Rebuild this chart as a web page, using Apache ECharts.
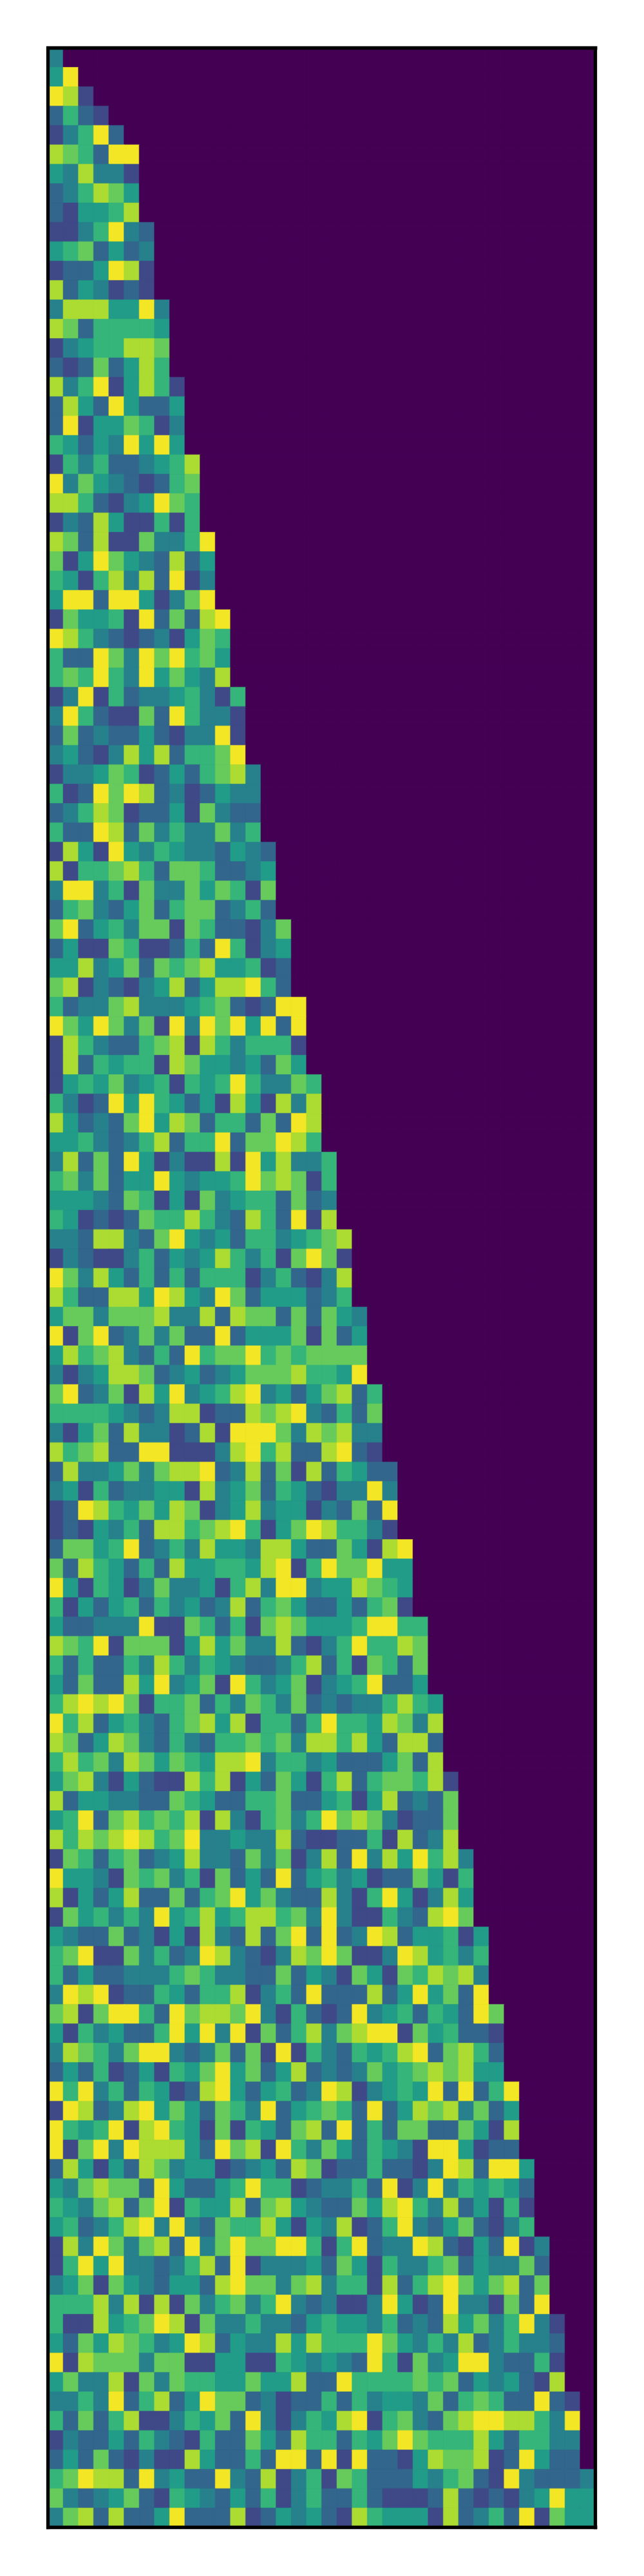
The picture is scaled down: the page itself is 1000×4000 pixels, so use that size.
<!DOCTYPE html>
<html>
<head>
<meta charset="utf-8">
<script src="https://cdn.jsdelivr.net/npm/echarts@6/dist/echarts.min.js"></script>
<style>html,body{margin:0;padding:0;background:#fff}#c{width:1000px;height:4000px}</style>
</head>
<body>
<div id="c"></div>
<script>
const columnCount = 36;
const rowsA = [
[4],
[5,9],
[9,8,2],
[3,6,3,2],
[2,4,6,9,3],
[8,7,6,3,9,9],
[5,4,8,4,4,2],
[3,4,6,8,7,5],
[3,2,5,5,6,8],
[2,2,4,6,9,4,3],
[5,6,7,3,5,3,4],
[2,3,3,5,9,8,2],
[8,3,5,4,2,3,2],
[4,8,8,8,5,5,9,4],
[8,7,3,6,6,6,6,5],
[2,4,5,6,6,8,8,7],
[3,2,3,7,3,5,8,6],
[8,4,6,9,2,5,8,6,2],
[3,8,5,3,9,5,3,3,5],
[3,9,2,5,5,7,6,2,4],
[6,5,3,5,4,9,5,9,5],
[2,6,4,6,3,3,4,5,6,8],
[9,4,7,5,4,3,2,3,6,7],
[8,8,6,3,2,4,5,9,7,6],
[2,4,3,8,5,2,2,6,2,6],
[8,7,3,8,2,2,7,4,4,6,9],
[7,2,5,9,7,5,4,3,8,3,5],
[6,5,2,6,8,4,8,3,9,2,4],
[5,9,9,3,9,9,5,2,4,7,9],
[2,7,5,5,6,2,9,3,7,3,8,9],
[9,8,6,4,3,2,3,4,2,5,7,6],
[6,3,3,9,7,4,9,7,9,6,7,5]
];
const rowsB = [
[6,7,6,9,6,4,9,5,7,5,4,8],
[2,4,9,2,6,3,4,4,5,6,4,2,6],
[4,9,6,3,2,2,7,3,9,6,4,4,2],
[3,7,3,4,3,3,5,3,2,4,4,9,2],
[4,5,3,2,4,8,5,8,3,6,6,7,9],
[2,4,4,5,7,6,2,3,5,3,6,7,8,4],
[6,2,3,9,7,9,8,3,4,2,3,5,4,4],
[3,4,6,8,7,2,3,3,5,2,7,4,3,3],
[6,3,3,9,8,3,7,4,6,4,4,7,4,6],
[2,8,5,2,9,5,4,6,5,4,4,3,5,4,3],
[8,2,6,6,7,8,6,3,7,7,6,3,3,4,5],
[4,9,9,4,6,2,7,4,4,7,5,7,6,2,7],
[3,6,7,4,3,5,7,3,6,7,7,3,4,6,3],
[7,9,3,5,6,4,7,7,2,7,6,3,3,2,4,7],
[3,5,2,2,7,6,2,2,3,6,3,9,6,2,4,5],
[5,5,8,4,5,7,3,7,6,7,8,5,5,6,2,3],
[7,8,2,4,3,2,4,5,8,3,5,8,8,9,6,3],
[6,3,4,4,7,8,4,4,4,5,6,7,3,2,3,9,9],
[9,7,5,9,7,4,7,2,9,4,9,7,9,5,9,3,9],
[2,8,6,4,3,3,6,7,8,2,8,6,4,6,6,6,2],
[2,8,3,6,5,6,6,2,8,7,5,5,4,5,3,7,5],
[2,5,6,5,7,4,5,6,2,6,5,6,9,6,4,4,7,6],
[6,4,2,3,9,5,9,6,5,3,5,2,8,5,2,8,4,8],
[8,5,3,4,3,7,9,5,8,7,3,6,6,3,7,3,9,8],
[5,5,6,4,3,4,6,8,3,6,6,9,3,7,7,9,8,6],
[4,8,3,7,3,9,5,2,4,2,2,8,2,9,5,8,4,4,6],
[6,7,4,7,3,5,5,9,5,4,5,5,6,9,7,8,7,2,6],
[5,5,5,4,3,7,6,2,5,2,7,4,5,6,6,3,7,3,4],
[6,5,2,3,2,3,7,6,6,8,6,4,3,8,6,3,9,2,8],
[4,4,3,8,8,4,3,7,9,5,4,5,3,6,6,4,5,6,7,8],
[2,4,3,2,2,4,6,3,5,4,5,8,6,4,6,2,7,9,7,2],
[9,7,4,8,5,3,6,3,6,3,6,6,6,2,4,6,3,2,4,8]
];
const rowsC = [
[8,6,3,3,8,8,5,9,8,5,4,9,7,3,5,5,5,3,4,6],
[5,7,7,4,7,7,7,8,4,4,8,3,8,7,7,3,7,3,7,5,4],
[9,2,7,9,3,4,7,4,7,3,3,9,3,5,5,5,7,2,7,3,5],
[5,8,6,7,8,4,3,6,3,9,6,7,7,9,6,7,6,7,7,7,7],
[4,2,4,5,8,8,7,3,4,5,3,4,5,7,7,7,8,6,6,5,9],
[7,9,3,4,7,2,8,5,9,4,5,6,8,9,4,5,3,5,7,8,3,6],
[6,6,6,6,5,4,3,4,8,8,2,3,3,8,7,8,9,4,3,6,3,7],
[4,2,5,7,3,8,4,4,2,3,8,2,9,9,9,7,4,8,7,8,4,4],
[8,6,7,8,3,3,9,9,2,2,2,4,8,9,6,8,3,3,8,9,3,2],
[3,8,4,4,5,7,4,7,8,8,9,3,4,8,3,7,2,8,3,6,5,3,3],
[4,5,2,6,3,4,4,5,5,2,8,4,5,7,3,6,5,3,2,4,4,9,4],
[2,3,9,8,6,5,7,5,8,7,2,4,5,8,4,5,5,2,4,3,7,3,9],
[2,3,2,5,4,6,3,8,8,6,7,8,9,6,2,5,7,9,8,6,6,4,2],
[3,7,7,5,6,9,3,4,6,4,8,5,5,4,8,8,5,3,3,7,5,2,8,9],
[7,3,8,6,5,3,6,3,8,5,5,6,6,5,8,9,2,6,9,7,7,9,5,5],
[9,5,2,6,5,2,4,7,4,4,5,2,6,8,4,9,9,4,5,5,8,7,6,5],
[6,2,5,3,5,6,3,6,4,5,3,4,8,3,6,7,5,3,3,5,3,6,7,2],
[5,3,3,4,4,4,9,2,2,7,6,3,6,2,7,8,7,5,5,5,6,9,9,6,6],
[8,7,6,9,2,7,7,7,2,5,8,5,7,4,4,8,3,2,4,6,9,6,6,8,7],
[6,3,6,3,3,6,4,8,6,4,6,5,4,3,3,4,6,8,3,6,2,7,6,3,7],
[5,3,7,3,3,8,5,9,4,5,7,2,9,6,4,5,7,2,4,5,6,9,3,3,5],
[6,8,9,8,9,7,2,6,6,7,3,6,4,7,6,4,7,3,4,3,4,4,6,8,6,5],
[9,6,8,3,5,6,4,3,6,7,8,5,8,2,6,6,3,6,9,6,6,5,8,7,4,8],
[8,7,3,5,8,7,4,3,6,4,3,6,6,7,6,7,4,8,8,6,8,5,3,8,8,3],
[6,8,6,7,4,8,7,5,7,6,5,8,8,9,4,6,6,4,5,3,3,3,5,7,3,8],
[5,7,8,4,2,5,3,2,2,8,6,8,2,5,3,7,5,2,6,8,3,6,7,7,6,8,2],
[8,3,5,5,4,4,3,3,7,6,5,3,3,6,6,7,3,3,5,6,2,5,8,3,4,3,7],
[5,6,9,3,7,8,6,7,6,8,2,8,4,2,6,7,4,6,9,7,8,7,4,2,3,3,7],
[8,6,8,7,8,9,8,6,7,9,4,4,5,4,4,8,3,2,2,3,3,6,2,8,3,4,8],
[2,7,6,3,6,7,3,4,5,8,4,4,3,7,4,7,2,4,8,3,9,4,8,5,9,6,8,4],
[9,5,5,4,2,7,6,7,4,6,2,7,3,5,3,9,3,5,6,4,5,2,3,3,7,5,2,6],
[8,2,5,3,5,8,3,3,7,3,6,7,9,5,7,4,3,3,8,4,2,6,9,5,2,4,8,5]
];
const rowsD = [
[2,7,5,6,4,6,4,9,5,6,8,5,6,8,8,6,7,4,9,4,2,2,6,4,3,8,9,7],
[5,4,3,3,7,3,4,2,5,2,8,4,3,8,3,7,9,3,9,3,4,9,8,3,5,5,6,2,5],
[6,7,9,2,2,7,4,6,3,4,9,8,4,3,2,4,8,7,9,7,2,2,4,9,8,5,6,4,6],
[6,3,5,3,3,4,4,4,6,7,6,4,4,3,3,7,3,5,4,2,7,5,2,7,6,8,7,8,4],
[4,9,8,9,2,3,3,6,5,3,6,6,8,2,4,6,3,9,3,3,3,8,3,5,9,5,7,3,9],
[7,8,2,7,9,9,6,3,9,7,8,8,7,9,4,2,6,3,2,3,9,4,5,6,3,6,5,3,9,7],
[5,2,6,4,5,3,3,6,9,5,9,4,9,2,7,3,6,8,4,7,8,9,9,2,7,5,6,3,3,2],
[4,8,7,6,4,7,9,9,4,3,4,7,3,7,2,9,2,6,4,3,6,5,6,8,9,3,7,8,6,3],
[3,5,3,6,2,3,5,2,6,5,7,9,5,7,3,5,8,3,4,3,4,7,5,6,7,8,7,8,5,5],
[9,6,9,4,6,3,6,5,2,3,8,9,5,3,5,6,3,4,9,8,2,4,5,6,5,9,3,9,3,6,9],
[2,9,8,3,4,8,9,5,7,5,3,7,6,4,9,3,5,6,7,6,3,9,3,5,8,7,8,4,7,3,5],
[9,6,5,6,9,2,8,9,6,5,2,7,2,6,5,3,7,8,3,9,3,6,3,7,7,3,3,7,5,2,8],
[9,2,7,9,4,9,8,8,8,5,3,9,7,8,2,9,6,4,7,5,3,6,5,4,2,9,9,5,2,3,3],
[3,8,5,2,5,3,8,7,4,5,5,2,3,4,5,3,8,7,2,3,3,6,3,3,2,4,9,8,3,9,9,5],
[5,4,7,8,7,7,3,9,5,3,3,5,6,9,6,6,2,3,4,4,6,3,9,2,4,9,4,6,5,6,5,3],
[6,5,4,7,8,3,7,9,2,6,5,5,8,3,7,8,5,4,3,3,7,5,8,9,6,4,8,3,5,2,6,2],
[5,6,3,4,6,8,9,4,9,4,3,7,6,6,8,5,2,5,4,8,2,3,6,9,4,3,5,7,3,2,4,6],
[2,8,4,9,7,4,7,8,3,9,4,7,9,7,7,9,9,6,2,6,9,3,4,4,9,8,3,2,5,3,9,2,4],
[2,6,9,5,9,4,4,3,4,6,8,3,9,2,4,4,4,5,3,7,5,2,6,4,4,6,7,3,5,4,4,7,3],
[4,5,7,2,7,5,4,3,5,5,3,8,9,7,7,4,7,8,4,6,6,2,8,3,6,8,9,7,5,7,8,3,7],
[6,6,6,8,4,8,2,8,2,7,4,6,7,4,6,9,4,3,4,2,2,4,9,5,2,3,9,4,4,2,7,3,9],
[6,2,2,8,5,6,7,9,8,2,7,4,4,6,4,4,3,5,6,5,5,4,6,3,4,3,8,5,7,4,6,9,4,2],
[5,3,7,5,8,7,6,4,5,9,8,3,5,4,4,8,5,8,6,6,6,9,7,5,4,6,4,8,3,4,6,4,4,3],
[9,2,8,7,7,7,4,7,7,2,2,5,5,2,2,6,5,4,5,4,3,9,6,2,7,4,5,9,9,4,3,3,6,2],
[5,7,4,4,8,2,7,4,7,6,6,5,5,7,5,5,8,3,3,9,6,6,6,6,7,6,7,3,5,4,5,3,2,8],
[4,4,6,4,9,3,6,8,3,5,9,7,7,3,4,2,3,3,6,3,6,4,5,5,4,7,3,6,7,6,3,3,9,3,2],
[6,3,7,3,6,8,2,2,4,6,5,7,3,9,4,2,4,6,5,8,9,2,6,7,4,3,7,8,9,9,8,8,6,4,9],
[2,4,3,3,5,3,6,4,3,2,6,3,3,7,5,3,8,6,6,3,6,5,7,9,7,6,6,6,8,5,3,6,6,4,4],
[3,5,3,7,3,2,4,2,2,8,5,3,3,6,3,9,9,3,9,2,9,3,3,2,5,8,7,7,8,2,3,9,5,3,3],
[6,7,9,8,8,3,9,4,5,3,3,9,4,3,8,2,4,6,2,7,6,3,3,3,5,4,6,7,3,2,9,4,3,3,3,4],
[7,4,3,4,5,7,3,2,6,5,4,3,5,3,6,2,4,6,3,3,6,3,2,2,2,3,8,3,2,3,2,4,5,9,5,5],
[4,7,8,3,8,3,3,5,9,3,3,3,8,2,3,5,4,5,3,2,8,6,5,5,5,2,8,3,4,6,3,9,2,7,5,5]
];
const viridis = ['#440154','#482475','#414487','#355f8d','#2a788e','#21918c','#22a884','#44bf70','#7ad151','#bddf26','#fde725'];

const rows = rowsA.concat(rowsB, rowsC, rowsD);
const xCats = Array.from({length: columnCount}, (_, i) => i);
const yCats = rows.map((_, i) => i);
const cells = [];
rows.forEach((row, y) => {
  for (let x = 0; x < columnCount; x++) {
    const v = x < row.length ? row[x] : 0;
    const c = echarts.color.lerp(v / 9.15, viridis);
    cells.push({value: [x, y, v], itemStyle: {color: c, borderColor: c, borderWidth: 0.6}});
  }
});
const frame = {show: true, onZero: false, lineStyle: {color: '#000', width: 5.3, cap: 'square'}};
const hiddenBits = {axisTick: {show: false}, axisLabel: {show: false}, splitLine: {show: false}, splitArea: {show: false}};
const chart = echarts.init(document.getElementById('c'), null, {renderer: 'canvas'});
chart.setOption({
  animation: false,
  backgroundColor: '#fff',
  grid: {left: 74.7, top: 74.7, width: 850, height: 3850, containLabel: false, show: true, backgroundColor: '#440154', borderWidth: 0},
  xAxis: [
    Object.assign({type: 'category', data: xCats, position: 'bottom', z: 10, axisLine: frame}, hiddenBits),
    Object.assign({type: 'category', data: xCats, position: 'top', z: 10, axisLine: frame}, hiddenBits)
  ],
  yAxis: [
    Object.assign({type: 'category', data: yCats, inverse: true, position: 'left', z: 10, axisLine: frame}, hiddenBits),
    Object.assign({type: 'category', data: yCats, inverse: true, position: 'right', z: 10, axisLine: frame}, hiddenBits)
  ],
  series: [{
    type: 'heatmap',
    data: cells,
    progressive: 0,
    silent: true,
    emphasis: {disabled: true}
  }]
});
</script>
</body>
</html>
